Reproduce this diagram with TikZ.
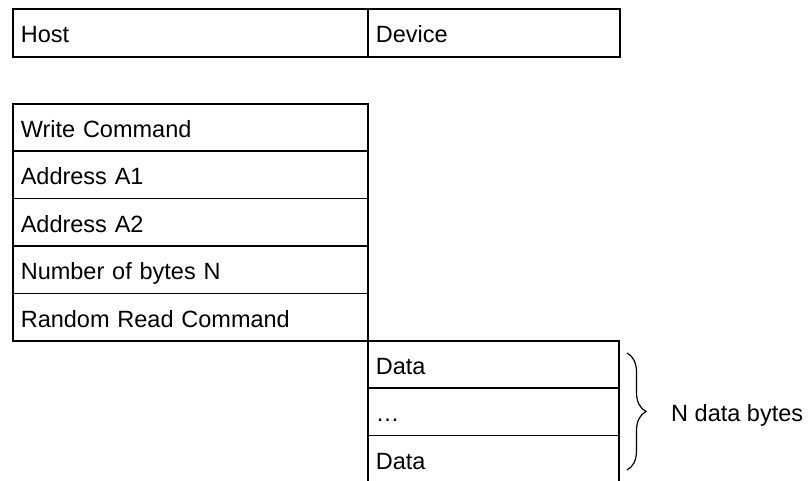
\documentclass[tikz,border=0pt]{standalone}
\usepackage{fontspec}
\setmainfont{Liberation Sans}
\usetikzlibrary{decorations.pathreplacing}
\begin{document}
\begin{tikzpicture}[x=1pt,y=-1pt,
  cell/.style={draw, line width=1.6pt, anchor=north west, minimum height=47.4pt,
    inner xsep=8pt, inner ysep=0pt, text height=20pt, text depth=0pt, align=left,
    font=\fontsize{23.5}{28}\selectfont},
  lbl/.style={anchor=base west, inner sep=0pt, font=\fontsize{23.5}{28}\selectfont},
  bracestyle/.style={line width=1.2pt, decorate, decoration={brace, amplitude=19pt}}
]
\useasboundingbox (0,0) rectangle (808,480);
\node[cell, minimum height=48pt, text width=339pt] (host) at (12,8) {Host};
\node[cell, minimum height=48pt, text width=236pt] (device) at (367,8) {Device};
\node[cell, text width=339pt] (wc) at (12,103) {Write Command};
\node[cell, text width=339pt] (a1) at (12,150.4) {Address A1};
\node[cell, text width=339pt] (a2) at (12,197.8) {Address A2};
\node[cell, text width=339pt] (nb) at (12,245.2) {Number of bytes N};
\node[cell, text width=339pt] (rr) at (12,292.6) {Random Read Command};
\node[cell, text width=235pt] (d1) at (367,340) {Data};
\node[cell, text width=235pt] (d2) at (367,387.4) {…};
\node[cell, text width=235pt] (d3) at (367,434.8) {Data};
\coordinate (btop) at (627,353);
\coordinate (bbot) at (627,470);
\draw[bracestyle] (btop) -- (bbot);
\node[lbl] (nbytes) at (671,421) {N data bytes};
\end{tikzpicture}
\end{document}
